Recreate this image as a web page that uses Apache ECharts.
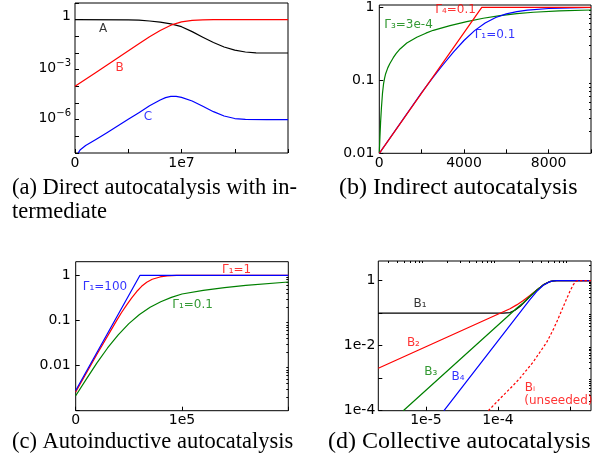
<!DOCTYPE html>
<html><head><meta charset="utf-8">
<script src="https://cdn.jsdelivr.net/npm/echarts@6/dist/echarts.min.js"></script>
<style>html,body{margin:0;padding:0;background:#fff}#c{width:609px;height:464px}</style>
</head><body><div id="c"></div>
<script>
// ---------- Panel (a): Direct autocatalysis with intermediate ----------
const aAx = [0, 5e6, 6e6, 7e6, 8e6, 9e6, 1e7, 1.1e7, 1.2e7, 1.3e7, 1.4e7, 1.5e7, 1.6e7, 1.7e7, 2e7];
const aAy = [1, 0.977, 0.933, 0.832, 0.708, 0.562, 0.380, 0.191, 0.0891, 0.0427, 0.0229, 0.0148, 0.0115, 0.0102, 0.01];
const aBx = [0, 2e6, 4e6, 6e6, 7e6, 8e6, 9e6, 1e7, 1.1e7, 1.2e7, 1.3e7, 2e7];
const aBy = [1e-4, 7.08e-4, 5.01e-3, 0.0355, 0.0933, 0.224, 0.468, 0.741, 0.912, 0.977, 1, 1];
const aCx = [3e5, 5e5, 1e6, 2e6, 3e6, 4e6, 5e6, 6e6, 7e6, 8e6, 8.5e6, 9e6, 9.5e6, 1e7, 1.1e7, 1.2e7, 1.3e7, 1.4e7, 1.5e7, 1.6e7, 1.8e7, 2e7];
const aCy = [1e-8, 1.58e-8, 2.82e-8, 6.76e-8, 1.66e-7, 4.17e-7, 1.05e-6, 2.63e-6, 6.76e-6, 1.51e-5, 2.09e-5, 2.51e-5, 2.51e-5, 2.19e-5, 1.32e-5, 6.31e-6, 3.02e-6, 1.66e-6, 1.17e-6, 1.05e-6, 1e-6, 1e-6];
const aXTicks = [0, 5e6, 1e7, 1.5e7, 2e7];
const aXLabels = [0, 1e7];
const aYTicks = [1e-8, 1e-7, 1e-6, 1e-5, 1e-4, 1e-3, 1e-2, 1e-1, 1, 10];
const aYLabels = [1e-6, 1e-3, 1];

// ---------- Panel (b): Indirect autocatalysis ----------
const bRx = [0, 4840, 10000];
const bRy = [0.01, 1, 1];
const bBx = [0, 2000, 2500, 3000, 3500, 4000, 4500, 5000, 5500, 6000, 6500, 7000, 8000, 9000, 10000];
const bBy = [0.01, 0.0676, 0.106, 0.162, 0.243, 0.351, 0.479, 0.610, 0.724, 0.813, 0.871, 0.912, 0.962, 0.984, 0.993];
const bGx = [0, 30, 60, 100, 150, 200, 250, 300, 400, 500, 660, 800, 980, 1300, 1770, 2200, 2550, 3340, 4130, 4910, 5700, 6500, 7280, 8500, 10000];
const bGy = [0.01, 0.0166, 0.0263, 0.0417, 0.0661, 0.0891, 0.107, 0.123, 0.148, 0.170, 0.204, 0.234, 0.269, 0.324, 0.389, 0.442, 0.484, 0.562, 0.638, 0.708, 0.767, 0.817, 0.855, 0.891, 0.918];
const bXTicks = [0, 2000, 4000, 6000, 8000, 10000];
const bXLabels = [0, 4000, 8000];
const bYLabels = [0.01, 0.1, 1];

// ---------- Panel (c): Autoinductive autocatalysis ----------
const cBx = [0, 60500, 200000];
const cBy = [0.0028, 1, 1];
const cRx = [0, 20000, 38600, 43000, 48000, 52700, 57400, 62000, 66800, 72000, 79300, 86000, 95000, 117000, 200000];
const cRy = [0.0026, 0.0178, 0.1, 0.148, 0.221, 0.316, 0.437, 0.569, 0.700, 0.817, 0.918, 0.970, 0.991, 1, 1];
const cGx = [0, 10000, 20000, 30000, 40000, 50000, 60000, 70000, 80000, 90000, 100000, 120000, 140000, 160000, 200000];
const cGy = [0.00214, 0.00501, 0.0115, 0.0245, 0.0479, 0.0851, 0.135, 0.195, 0.260, 0.324, 0.385, 0.462, 0.531, 0.596, 0.710];
const cXTicks = [0, 1e5, 2e5];
const cXLabels = [0, 1e5];
const cYTicks = [1e-3, 1e-2, 1e-1, 1];
const cYLabels = [0.01, 0.1, 1];

// ---------- Panel (d): Collective autocatalysis ----------
const dB1x = [2.18e-6, 1.19e-4, 1.47e-4, 1.72e-4, 2.02e-4, 2.37e-4, 2.78e-4, 3.44e-4, 4.26e-4, 5.27e-4, 5.9e-4, 6.53e-4, 1.96e-3];
const dB1y = [0.1, 0.1, 0.104, 0.122, 0.159, 0.226, 0.323, 0.506, 0.738, 0.933, 0.98, 1, 1];
const dB2x = [2.18e-6, 1.47e-4, 1.82e-4, 2.25e-4, 2.78e-4, 3.44e-4, 4.26e-4, 5.27e-4, 5.9e-4, 6.53e-4, 1.96e-3];
const dB2y = [2.01e-3, 0.136, 0.179, 0.243, 0.346, 0.506, 0.738, 0.933, 0.98, 1, 1];
const dB3x = [4.84e-6, 1.82e-4, 2.25e-4, 2.78e-4, 3.44e-4, 4.26e-4, 5.27e-4, 5.9e-4, 6.53e-4, 1.96e-3];
const dB3y = [1e-4, 0.141, 0.21, 0.33, 0.506, 0.738, 0.933, 0.98, 1, 1];
const dB4x = [1.78e-5, 2.78e-4, 3.44e-4, 4.26e-4, 5.27e-4, 5.9e-4, 6.53e-4, 1.96e-3];
const dB4y = [1e-4, 0.261, 0.459, 0.72, 0.93, 0.98, 1, 1];
const dBix = [7.35e-5, 1.19e-4, 1.63e-4, 2.02e-4, 3.09e-4, 4.74e-4, 5.88e-4, 6.53e-4, 7.3e-4, 8.07e-4, 9.0e-4, 1.0e-3, 1.11e-3, 1.2e-3, 1.3e-3, 1.96e-3];
const dBiy = [1e-4, 3.0e-4, 6.0e-4, 1.0e-3, 3.16e-3, 0.0126, 0.0316, 0.0525, 0.0933, 0.158, 0.275, 0.468, 0.741, 0.933, 1, 1];
const dXTicks = [1e-5, 1e-4, 1e-3];
const dXLabels = [1e-5, 1e-4];
const dYTicks = [1e-4, 1e-3, 1e-2, 1e-1, 1];
const dYLabels = [1e-4, 1e-2, 1];

// ---------- Captions & annotations ----------
const captions = ['(a) Direct autocatalysis with in-\ntermediate', '(b) Indirect autocatalysis', '(c) Autoinductive autocatalysis', '(d) Collective autocatalysis'];
const annotations = [
  // [grid, x, y, text, color]
  [0, 2.63e6, 0.3, 'A', '#000000'],
  [0, 4.2e6, 1.3e-3, 'B', '#ff0000'],
  [0, 6.85e6, 1.4e-6, 'C', '#0000ff'],
  [1, 3600, 0.92, 'Γ₄=0.1', '#ff0000'],
  [1, 1380, 0.57, 'Γ₃=3e-4', '#008000'],
  [1, 5465, 0.42, 'Γ₁=0.1', '#0000ff'],
  [2, 27560, 0.54, 'Γ₁=100', '#0000ff'],
  [2, 151400, 1.29, 'Γ₁=1', '#ff0000'],
  [2, 110000, 0.22, 'Γ₁=0.1', '#008000'],
  [3, 8.3e-6, 0.19, 'B₁', '#000000'],
  [3, 6.7e-6, 0.0119, 'B₂', '#ff0000'],
  [3, 1.17e-5, 1.58e-3, 'B₃', '#008000'],
  [3, 2.8e-5, 1.11e-3, 'B₄', '#0000ff'],
  [3, 2.78e-4, 5.1e-4, 'Bᵢ', '#ff0000'],
  [3, 6.9e-4, 2.0e-4, '(unseeded)', '#ff0000']
];

// ---------- helpers ----------
const FONT = 'DejaVu Sans';
const zip = (xs, ys) => xs.map((x, i) => [x, ys[i]]);
function minorLog(lo, hi) { // log minor tick positions (2..9 x 10^k) within [lo, hi]
  const out = [];
  for (let e = Math.floor(Math.log10(lo)); e <= Math.ceil(Math.log10(hi)); e++) {
    for (let m = 2; m <= 9; m++) { const v = m * Math.pow(10, e); if (v >= lo * 1.0001 && v <= hi * 0.9999) out.push(v); }
  }
  return out;
}

const grids = [
  { left: 75, top: 3, width: 213, height: 150 },
  { left: 379.3, top: 5, width: 211.7, height: 148.3 },
  { left: 75.7, top: 261.7, width: 212.6, height: 149 },
  { left: 378.3, top: 261, width: 212.7, height: 149.7 }
].map(g => Object.assign({ show: true, borderColor: '#000', borderWidth: 1, backgroundColor: 'transparent' }, g));

const labelStyle = { color: '#000', fontSize: 14, fontFamily: FONT };
function mainAxis(gridIndex, type, min, max, ticks, labels, fmt, margin) {
  return {
    type, gridIndex, min, max, logBase: 10,
    axisLine: { show: false },
    splitLine: { show: false },
    axisTick: { show: true, inside: true, length: 4, customValues: ticks, lineStyle: { color: '#000', width: 1 } },
    axisLabel: Object.assign({ show: true, margin: margin, customValues: labels, formatter: fmt, hideOverlap: false }, labelStyle)
  };
}
function minorAxis(gridIndex, min, max, ticks) {
  return {
    type: 'log', gridIndex, min, max, logBase: 10,
    axisLine: { show: false }, splitLine: { show: false }, axisLabel: { show: false },
    axisTick: { show: true, inside: true, length: 2, customValues: ticks, lineStyle: { color: '#000', width: 1 } }
  };
}

const fmtA_y = v => { const e = Math.round(Math.log10(v)); return e === 0 ? '1' : '{b|10}{p|−' + (-e) + '}'; };
const fmtPlain = v => { const e = Math.round(Math.log10(v)); return e === 0 ? '1' : (e === -1 ? '0.1' : '0.01'); };
const fmtD = v => { const e = Math.round(Math.log10(v)); return e === 0 ? '1' : '1e' + e; };

const xAxis = [
  mainAxis(0, 'value', 0, 2e7, aXTicks, aXLabels, v => v === 0 ? '0' : '1e7', 3),
  mainAxis(1, 'value', 0, 10000, bXTicks, bXLabels, v => String(v), 3),
  mainAxis(2, 'value', 0, 2e5, cXTicks, cXLabels, v => v === 0 ? '0' : '1e5', 3),
  mainAxis(3, 'log', 2.18e-6, 1.96e-3, dXTicks, dXLabels, fmtD, 3),
  minorAxis(3, 2.18e-6, 1.96e-3, minorLog(2.18e-6, 1.96e-3))
];
const yA = mainAxis(0, 'log', 1e-8, 10, aYTicks, aYLabels, fmtA_y, 4);
yA.axisLabel.rich = {
  b: { fontSize: 14, fontFamily: FONT, color: '#000', verticalAlign: 'bottom' },
  p: { fontSize: 10, fontFamily: FONT, color: '#000', verticalAlign: 'bottom', padding: [0, 0, 7, 0] }
};
yA.axisLabel.padding = [0, 0, 6, 0];
const yAxis = [
  yA,
  mainAxis(1, 'log', 0.01, 1.075, [0.01, 0.1, 1], bYLabels, fmtPlain, 5),
  mainAxis(2, 'log', 1e-3, 2, cYTicks, cYLabels, fmtPlain, 5),
  mainAxis(3, 'log', 1e-4, 4, dYTicks, dYLabels, fmtD, 3),
  minorAxis(1, 0.01, 1.075, minorLog(0.01, 1.075)),
  minorAxis(2, 1e-3, 2, minorLog(1e-3, 2)),
  minorAxis(3, 1e-4, 4, minorLog(1e-4, 4))
];

function line(gi, xs, ys, color, extra) {
  return Object.assign({
    type: 'line', xAxisIndex: gi, yAxisIndex: gi, data: zip(xs, ys), showSymbol: false, symbol: 'none',
    lineStyle: { color, width: 1.2, join: 'round' }, itemStyle: { color }, silent: true, clip: true
  }, extra || {});
}

const series = [
  line(0, aAx, aAy, '#000000'),
  line(0, aBx, aBy, '#ff0000'),
  line(0, aCx, aCy, '#0000ff'),
  line(1, bGx, bGy, '#008000'),
  line(1, bBx, bBy, '#0000ff'),
  line(1, bRx, bRy, '#ff0000'),
  line(2, cGx, cGy, '#008000'),
  line(2, cRx, cRy, '#ff0000'),
  line(2, cBx, cBy, '#0000ff'),
  line(3, dB1x, dB1y, '#000000'),
  line(3, dB2x, dB2y, '#ff0000'),
  line(3, dB3x, dB3y, '#008000'),
  line(3, dB4x, dB4y, '#0000ff'),
  line(3, dBix, dBiy, '#ff0000', { lineStyle: { color: '#ff0000', width: 1.2, type: [2.5, 2] } })
];
annotations.forEach(([gi, x, y, text, color]) => {
  series.push({
    type: 'scatter', xAxisIndex: gi, yAxisIndex: gi, data: [[x, y]], symbolSize: 0, silent: true,
    label: { show: true, position: 'inside', formatter: text, color, fontSize: 12, fontFamily: FONT }
  });
});

const cap = size => ({ fontFamily: 'Liberation Serif', fontSize: size, fontWeight: 'normal', color: '#000', lineHeight: 24 });
const title = [
  { text: captions[0], left: 12, top: 176, textStyle: cap(22.5), padding: 0 },
  { text: captions[1], left: 339, top: 176, textStyle: cap(24), padding: 0 },
  { text: captions[2], left: 12, top: 430, textStyle: cap(22.5), padding: 0 },
  { text: captions[3], left: 328, top: 430, textStyle: cap(24), padding: 0 }
];

const chart = echarts.init(document.getElementById('c'), null, { renderer: 'canvas' });
chart.setOption({ animation: false, backgroundColor: '#fff', title, grid: grids, xAxis, yAxis, series });
</script></body></html>
